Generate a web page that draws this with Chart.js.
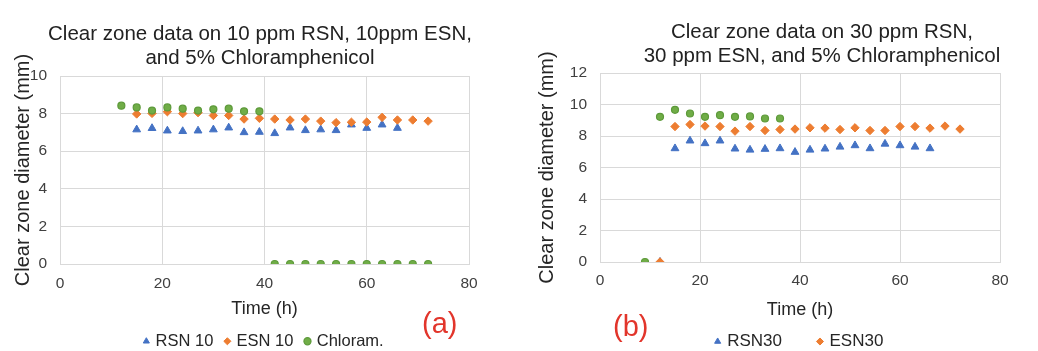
<!DOCTYPE html>
<html>
<head>
<meta charset="utf-8">
<script src="https://cdn.jsdelivr.net/npm/chart.js@4.4.1/dist/chart.umd.min.js"></script>
<style>
  body { margin: 0; background: #fff; }
  #page { position: relative; width: 1038px; height: 351px; font-family: 'Liberation Sans', Arial, sans-serif; }
  canvas { position: absolute; top: 0; }
  .title { position: absolute; width: 500px; font-size: 20.5px; line-height: 23.5px; color: #222; text-align: center; white-space: nowrap; }
  .tag { position: absolute; font-size: 29px; line-height: 29px; color: #e2352b; }
</style>
</head>
<body>
<div id="page">
  <canvas id="chartA" width="520" height="351" style="left:0"></canvas>
  <canvas id="chartB" width="518" height="351" style="left:520px"></canvas>
  <div class="title" style="left:10px; top:21px">Clear zone data on 10 ppm RSN, 10ppm ESN,<br>and 5% Chloramphenicol</div>
  <div class="title" style="left:572px; top:19px">Clear zone data on 30 ppm RSN,<br>30 ppm ESN, and 5% Chloramphenicol</div>
  <div class="tag" style="left:422px; top:309px">(a)</div>
  <div class="tag" style="left:613px; top:312px">(b)</div>
</div>
<script>
// (a) 10 ppm
const rsn10Hours = [15, 18, 21, 24, 27, 30, 33, 36, 39, 42, 45, 48, 51, 54, 57, 60, 63, 66]
const rsn10Values = [7.15, 7.22, 7.09, 7.06, 7.09, 7.15, 7.25, 7.0, 7.02, 6.95, 7.25, 7.11, 7.15, 7.11, 7.41, 7.23, 7.41, 7.23]
const esn10Hours = [15, 18, 21, 24, 27, 30, 33, 36, 39, 42, 45, 48, 51, 54, 57, 60, 63, 66, 69, 72]
const esn10Values = [7.98, 8.01, 8.1, 8.0, 8.05, 7.9, 7.9, 7.71, 7.75, 7.71, 7.66, 7.71, 7.6, 7.52, 7.54, 7.55, 7.8, 7.66, 7.66, 7.6]
const chlor10Hours = [12, 15, 18, 21, 24, 27, 30, 33, 36, 39, 42, 45, 48, 51, 54, 57, 60, 63, 66, 69, 72]
const chlor10Values = [8.42, 8.33, 8.16, 8.33, 8.26, 8.16, 8.23, 8.26, 8.12, 8.12, 0, 0, 0, 0, 0, 0, 0, 0, 0, 0, 0]

// (b) 30 ppm
const rsn30Hours = [12, 15, 18, 21, 24, 27, 30, 33, 36, 39, 42, 45, 48, 51, 54, 57, 60, 63, 66]
const rsn30Values = [0, 7.21, 7.7, 7.53, 7.7, 7.19, 7.12, 7.17, 7.21, 6.98, 7.12, 7.19, 7.31, 7.4, 7.21, 7.5, 7.4, 7.31, 7.21]
const esn30Hours = [12, 15, 18, 21, 24, 27, 30, 33, 36, 39, 42, 45, 48, 51, 54, 57, 60, 63, 66, 69, 72]
const esn30Values = [0, 8.6, 8.73, 8.63, 8.6, 8.31, 8.6, 8.35, 8.41, 8.44, 8.52, 8.5, 8.41, 8.52, 8.35, 8.35, 8.6, 8.6, 8.5, 8.63, 8.44]
const chlor30Hours = [9, 12, 15, 18, 21, 24, 27, 30, 33, 36]
const chlor30Values = [0, 9.22, 9.66, 9.43, 9.22, 9.32, 9.22, 9.24, 9.11, 9.11]

const labelsA = ['RSN 10', 'ESN 10', 'Chloram.']
const labelsB = ['RSN30', 'ESN30', 'Chloram.']

const blue = '#4472c4'
const orange = '#ed7d31'
const green = '#70ad47'
const gridColor = '#d9d9d9'
const fontFamily = "'Liberation Sans', Arial, sans-serif"

const toPoints = (hours, values) => hours.map((h, i) => ({x: h, y: values[i]}))

const rsnSet = (label, data) => ({
    label: label, data: data, order: 3,
    pointStyle: 'triangle', pointRadius: 4.5,
    backgroundColor: blue, borderColor: blue, borderWidth: 1
})
const esnSet = (label, data) => ({
    label: label, data: data, order: 2,
    pointStyle: 'rectRot', pointRadius: 4.2,
    backgroundColor: orange, borderColor: orange, borderWidth: 1
})
const chlorSet = (label, data) => ({
    label: label, data: data, order: 1,
    pointStyle: 'circle', pointRadius: 3.5,
    backgroundColor: green, borderColor: '#5d9a3a', borderWidth: 1.2
})

const createChart = (canvasId, datasets, s) => {
    const ctx = document.getElementById(canvasId).getContext('2d')
    return new Chart(ctx, {
        type: 'scatter',
        data: {datasets: datasets},
        options: {
            responsive: false,
            animation: false,
            devicePixelRatio: 1,
            layout: {padding: {top: s.top, right: s.right, bottom: 0, left: 0}},
            plugins: {
                tooltip: {enabled: false},
                title: {display: false},
                legend: {
                    position: 'bottom',
                    fullSize: false,
                    maxHeight: s.legendHeight,
                    labels: {
                        usePointStyle: true,
                        boxWidth: 2,
                        boxHeight: 5,
                        padding: s.legendPadding,
                        color: '#262626',
                        font: {family: fontFamily, size: s.legendFont},
                        filter: (item) => item.text !== 'Chloram.' || s.showChlorLegend,
                        sort: (a, b) => a.datasetIndex - b.datasetIndex
                    }
                }
            },
            scales: {
                x: {
                    type: 'linear', min: 0, max: 80,
                    grid: {color: gridColor, drawTicks: false},
                    border: {color: gridColor},
                    ticks: {stepSize: 20, padding: s.xTickPad, color: '#404040', font: {family: fontFamily, size: 15.5}},
                    title: {display: true, text: 'Time (h)', color: '#262626', font: {family: fontFamily, size: 18}, padding: {top: 0, bottom: s.xTitlePad}},
                    afterFit: (scale) => { scale.height = s.xHeight }
                },
                y: {
                    min: 0, max: s.yMax,
                    grid: {color: gridColor, drawTicks: false},
                    border: {color: gridColor},
                    ticks: {stepSize: 2, padding: 13, color: '#404040', font: {family: fontFamily, size: 15.5}},
                    title: {display: true, text: 'Clear zone diameter (mm)', color: '#262626', font: {family: fontFamily, size: 20}, padding: {top: s.yTitlePad, bottom: 0}},
                    afterFit: (scale) => { scale.width = s.yWidth }
                }
            }
        }
    })
}

createChart('chartA', [
    rsnSet(labelsA[0], toPoints(rsn10Hours, rsn10Values)),
    esnSet(labelsA[1], toPoints(esn10Hours, esn10Values)),
    chlorSet(labelsA[2], toPoints(chlor10Hours, chlor10Values))
], {top: 76, right: 51, yMax: 10, yWidth: 60, yTitlePad: 11, xHeight: 56, xTickPad: 10, xTitlePad: 0,
    legendHeight: 31, legendPadding: 13, legendFont: 16.5, showChlorLegend: true})

createChart('chartB', [
    rsnSet(labelsB[0], toPoints(rsn30Hours, rsn30Values)),
    esnSet(labelsB[1], toPoints(esn30Hours, esn30Values)),
    chlorSet(labelsB[2], toPoints(chlor30Hours, chlor30Values))
], {top: 73, right: 38, yMax: 12, yWidth: 80, yTitlePad: 15, xHeight: 34, xTickPad: 9, xTitlePad: -25,
    legendHeight: 55, legendPadding: 37, legendFont: 17, showChlorLegend: false})
</script>
</body>
</html>
